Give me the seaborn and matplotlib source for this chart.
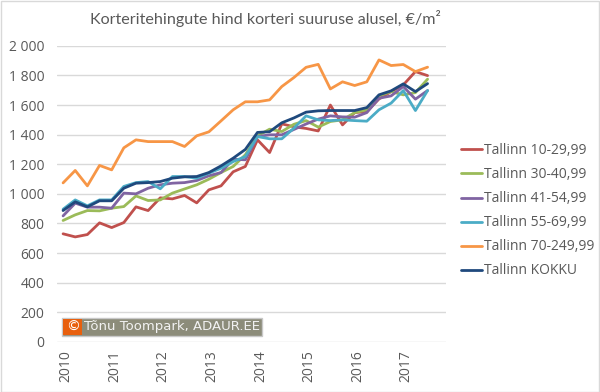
import numpy as np
import pandas as pd
import seaborn as sns
import matplotlib.pyplot as plt

# quarterly prices, 2010Q1 .. 2017Q3 (EUR per m2)
years = ['2010', '2011', '2012', '2013', '2014', '2015', '2016', '2017']
n_quarters = 31

t10_29 = [730, 709, 725, 804, 772, 806, 912, 887, 973, 966, 989, 939, 1027, 1054, 1149, 1185,
          1365, 1279, 1473, 1453, 1442, 1425, 1600, 1466, 1549, 1556, 1641, 1691, 1736, 1826, 1799]
t30_40 = [820, 858, 887, 885, 903, 914, 986, 955, 959, 1005, 1033, 1061, 1099, 1144, 1185, 1264,
          1392, 1437, 1421, 1470, 1495, 1451, 1489, 1500, 1549, 1568, 1662, 1691, 1669, 1684, 1775]
t41_54 = [851, 937, 910, 910, 903, 1005, 1000, 1038, 1061, 1072, 1076, 1090, 1122, 1144, 1234, 1230,
          1387, 1399, 1399, 1435, 1472, 1505, 1527, 1520, 1518, 1549, 1646, 1662, 1725, 1640, 1698]
t55_69 = [896, 959, 919, 959, 959, 1050, 1076, 1083, 1034, 1117, 1117, 1106, 1140, 1173, 1218, 1252,
          1387, 1372, 1372, 1444, 1527, 1500, 1495, 1500, 1495, 1491, 1568, 1613, 1698, 1563, 1698]
t70_249 = [1074, 1158, 1054, 1192, 1162, 1311, 1365, 1353, 1353, 1353, 1320, 1392, 1419, 1493, 1568, 1622,
           1622, 1635, 1725, 1786, 1855, 1875, 1709, 1757, 1732, 1757, 1905, 1867, 1874, 1826, 1856]
t_total = [887, 946, 912, 953, 953, 1038, 1072, 1076, 1083, 1106, 1115, 1117, 1144, 1189, 1241, 1300,
           1415, 1420, 1480, 1513, 1552, 1561, 1563, 1563, 1563, 1583, 1669, 1696, 1743, 1691, 1745]

series_names = ['Tallinn 10-29,99', 'Tallinn 30-40,99', 'Tallinn 41-54,99',
                'Tallinn 55-69,99', 'Tallinn 70-249,99', 'Tallinn KOKKU']
series_values = [t10_29, t30_40, t41_54, t55_69, t70_249, t_total]
colors = ['#c0504d', '#9bbb59', '#8064a2', '#4bacc6', '#f79646', '#1f497d']

rows = []
for name, vals in zip(series_names, series_values):
    for i, v in enumerate(vals):
        rows.append({'q': i, 'price': v, 'series': name})
df = pd.DataFrame(rows)

sns.set_theme(style='white')
plt.rcParams['font.family'] = ['Open Sans', 'DejaVu Sans']

fig = plt.figure(figsize=(6, 3.92), dpi=100)
ax = fig.add_axes([0.095, 0.128, 0.648, 0.755])

sns.lineplot(data=df, x='q', y='price', hue='series', hue_order=series_names,
             palette=colors, linewidth=2, ax=ax, legend=True)

ax.set_xlim(-0.5, 31.5)
ax.set_ylim(0, 2000)
ax.set_yticks(range(0, 2001, 200))
ax.set_yticklabels([f'{v:,}'.replace(',', ' ') for v in range(0, 2001, 200)])
ax.set_xticks([i + 0.25 for i in range(0, n_quarters, 4)])
ax.set_xticklabels(years, rotation=90)
ax.tick_params(axis='both', length=0, labelsize=10, labelcolor='#595959')
ax.tick_params(axis='y', pad=9)
ax.tick_params(axis='x', pad=6)
ax.grid(axis='y', color='#d9d9d9', linewidth=1)
ax.set_axisbelow(True)
for s in ax.spines.values():
    s.set_visible(False)
ax.set_xlabel('')
ax.set_ylabel('')

leg = ax.legend(loc='center left', bbox_to_anchor=(0.748, 0.462), bbox_transform=fig.transFigure,
                frameon=False, fontsize=10, handlelength=1.5, handletextpad=0.15, labelspacing=0.65)
for t in leg.get_texts():
    t.set_color('#595959')

fig.suptitle('Korteritehingute hind korteri suuruse alusel, €/m²', x=0.442, y=0.975,
             fontsize=11.6, color='#595959', family=['Lato', 'DejaVu Sans'])

# copyright tag
fig.patches.append(plt.Rectangle((0.1033, 0.1429), 0.3334, 0.0459, transform=fig.transFigure,
                                 facecolor='#8c8c7a', edgecolor='#c8c8c8', linewidth=1))
fig.patches.append(plt.Rectangle((0.105, 0.146), 0.0317, 0.040, transform=fig.transFigure,
                                 facecolor='#e8600e', edgecolor='none'))
fig.text(0.121, 0.166, '©', family='DejaVu Sans', fontsize=10, color='white', va='center', ha='center')
fig.text(0.14, 0.166, 'Tõnu Toompark, ADAUR.EE', family='DejaVu Sans', fontsize=9.5,
         color='#f2f2f2', va='center', ha='left')

fig.patches.append(plt.Rectangle((0.001, 0.001), 0.998, 0.997, transform=fig.transFigure,
                                 fill=False, edgecolor='#d9d9d9', linewidth=1))

fig.savefig('out.png', dpi=100)
